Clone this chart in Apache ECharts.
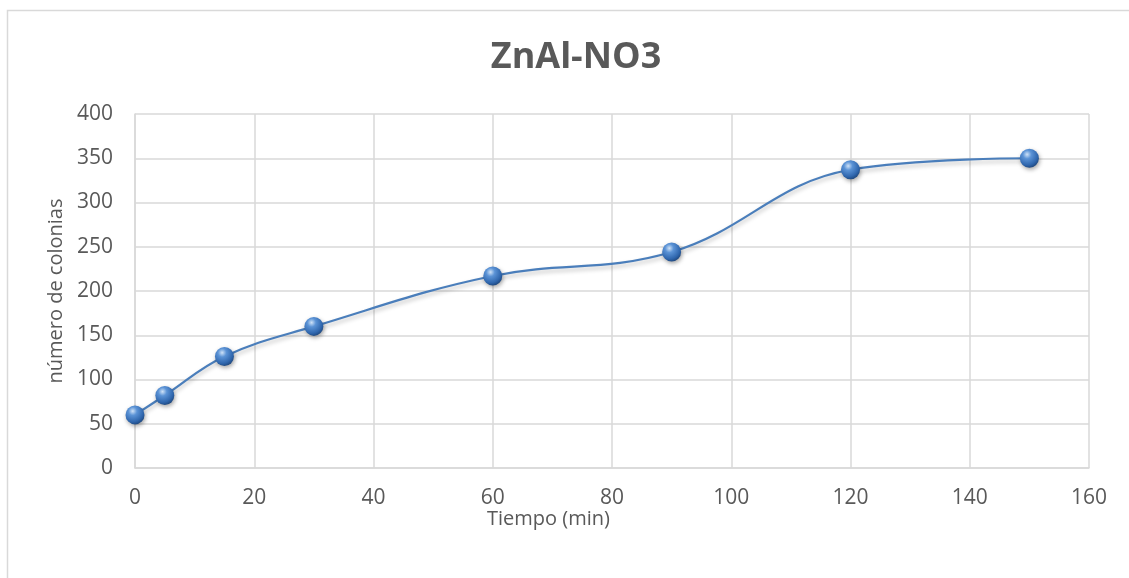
<!DOCTYPE html>
<html>
<head>
<meta charset="utf-8">
<script src="https://cdn.jsdelivr.net/npm/echarts@6/dist/echarts.min.js"></script>
<style>
html,body{margin:0;padding:0;background:#fff;}
#chart{width:1129px;height:578px;}
</style>
</head>
<body>
<div id="chart"></div>
<script>
const titleText = 'ZnAl-NO3';
const xName = 'Tiempo (min)';
const yName = 'número de colonias';
const tiempo = [0, 5, 15, 30, 60, 90, 120, 150];
const colonias = [60, 82, 126, 160, 217, 244, 337, 350];
const xAxisRange = [0, 160, 20];
const yAxisRange = [0, 400, 50];

const chart = echarts.init(document.getElementById('chart'));
const textColor = '#595959';
const gridColor = '#d9d9d9';
const font = 'Open Sans';

chart.setOption({
  animation: false,
  backgroundColor: '#fff',
  title: {
    text: titleText,
    left: 571,
    textAlign: 'center',
    top: 35,
    textStyle: { fontFamily: font, fontWeight: 'bold', fontSize: 36, color: textColor }
  },
  graphic: [
    { type: 'rect', left: 5, top: 8, shape: { width: 1140, height: 600 },
      style: { fill: 'none', stroke: '#d9d9d9', lineWidth: 1.5 }, silent: true },
    { type: 'text', left: 487, top: 509, style: { text: xName, font: '20px "Open Sans"', fill: textColor } }
  ],
  grid: { left: 135, right: 40, top: 114, bottom: 110, containLabel: false },
  xAxis: {
    type: 'value',
    min: xAxisRange[0], max: xAxisRange[1], interval: xAxisRange[2],
    axisLine: { show: true, lineStyle: { color: gridColor, width: 1.5 } },
    axisTick: { show: false },
    splitLine: { show: true, lineStyle: { color: gridColor, width: 1.5 } },
    axisLabel: { color: textColor, fontFamily: font, fontSize: 21, margin: 20 }
  },
  yAxis: {
    type: 'value',
    min: yAxisRange[0], max: yAxisRange[1], interval: yAxisRange[2],
    name: yName,
    nameLocation: 'middle',
    nameGap: 66,
    nameTextStyle: { color: textColor, fontFamily: font, fontSize: 20 },
    axisLine: { show: true, lineStyle: { color: gridColor, width: 1.5 } },
    axisTick: { show: false },
    splitLine: { show: true, lineStyle: { color: gridColor, width: 1.5 } },
    axisLabel: { color: textColor, fontFamily: font, fontSize: 21, margin: 22 }
  },
  series: [{
    type: 'line',
    data: tiempo.map((t, i) => [t, colonias[i]]),
    smooth: 0.4,
    symbol: 'circle',
    symbolSize: 19,
    lineStyle: { color: '#4a7ebb', width: 2.2, shadowColor: 'rgba(0,0,0,0.25)', shadowBlur: 4, shadowOffsetY: 3 },
    itemStyle: {
      color: {
        type: 'radial', x: 0.38, y: 0.3, r: 0.75,
        colorStops: [
          { offset: 0, color: '#cfe2f7' },
          { offset: 0.3, color: '#5b93d6' },
          { offset: 0.75, color: '#2f66ad' },
          { offset: 1, color: '#1d4478' }
        ]
      },
      borderWidth: 0,
      shadowColor: 'rgba(0,0,0,0.35)', shadowBlur: 4, shadowOffsetX: 1, shadowOffsetY: 2
    },
    z: 3
  }]
});
</script>
</body>
</html>
